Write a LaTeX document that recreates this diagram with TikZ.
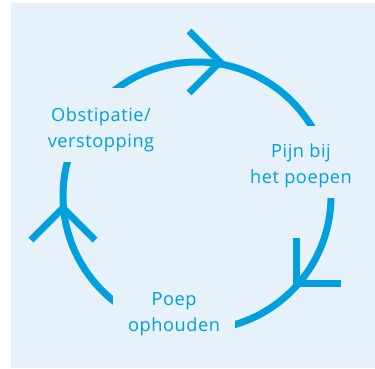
\documentclass[tikz,border=0pt]{standalone}
\usepackage{fontspec}
\setmainfont{Open Sans}[LetterSpace=3]
\definecolor{cyclebg}{RGB}{230,241,250}
\definecolor{cycleblue}{RGB}{0,160,222}
\tikzset{
  ring/.style={draw=cycleblue, line width=7pt},
  barb/.style={draw=cycleblue, line width=7pt},
  stage/.style={fill=cyclebg, text=cycleblue, align=center,
    font=\fontsize{18.2}{26}\selectfont, inner sep=0pt,
    text height=59pt, text depth=15pt, anchor=base},
}
\begin{document}
\begin{tikzpicture}[x=1pt,y=-1pt]
  \useasboundingbox (0,0) rectangle (375,369);
  \fill[cyclebg] (11,3) rectangle (375,368);
  \draw[ring] (197,196) circle[radius=134pt];
  \node[stage, minimum width=150pt] (obst) at (101,147) {Obstipatie/\\verstopping};
  \node[stage, minimum width=130pt, text height=57pt] (pijn) at (301,183) {Pijn bij\\het poepen};
  \node[stage, minimum width=122pt] (poep) at (174,331) {Poep\\ophouden};
  \coordinate (tipa) at (220,62);
  \coordinate (tipb) at (296,283);
  \coordinate (tipc) at (63,208);
  \draw[barb] (tipa) +(-31,-31) -- (tipa) -- +(-31,31);
  \draw[barb] (tipb) +(0,-45) -- (tipb) -- +(45,0);
  \draw[barb] (tipc) +(-32,32) -- (tipc) -- +(32,32);
\end{tikzpicture}
\end{document}
